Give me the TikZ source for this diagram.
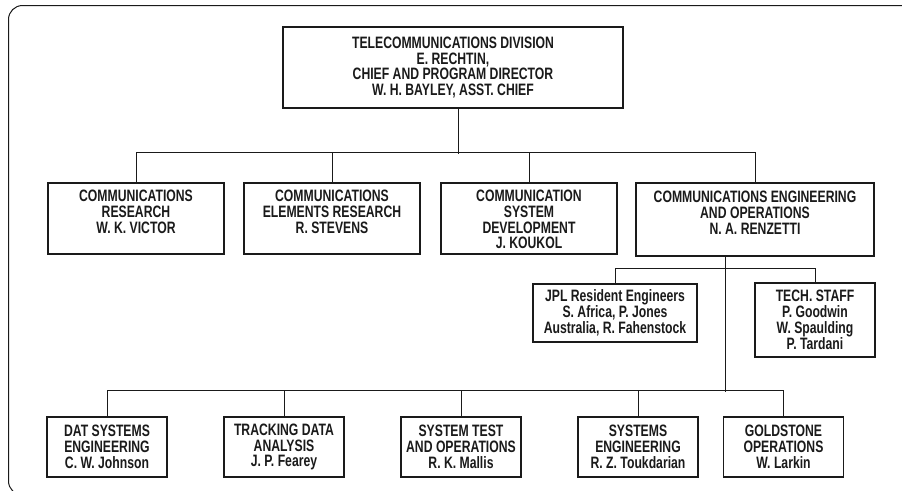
\documentclass[tikz,border=0pt]{standalone}
\usepackage{fontspec}
\setmainfont{Liberation Sans}[FakeStretch=0.74]
\definecolor{orginkt}{HTML}{1A1A1A}
\newcommand{\afdtekst}[2][162pt]{\parbox[c][57pt][t]{#1}{\centering #2}}

\begin{document}
\begin{tikzpicture}[x=1pt,y=-1pt,
    orgvak/.style={draw=orginkt,line width=1.1pt,inner sep=0pt,align=center,
      font=\fontsize{16.5}{15.8}\selectfont\bfseries,text=orginkt},
    afdvak/.style={orgvak,inner sep=7pt,minimum width=176pt,minimum height=71pt},
    klein/.style={orgvak,minimum width=120pt,minimum height=60pt},
    lijn/.style={draw=orginkt,line width=1pt}]

  \useasboundingbox (0,0) rectangle (902,490);
  \clip (0,0) rectangle (902,490);

  % kader
  \draw[orginkt,line width=1pt,rounded corners=14pt]
    (905,5.5) -- (8.5,5.5) -- (8.5,495) -- (40,495);

  % divisie
  \node[orgvak,minimum width=340pt,minimum height=81pt] (div) at (453,67.5)
    {TELECOMMUNICATIONS DIVISION\\E. RECHTIN,\\CHIEF AND PROGRAM DIRECTOR\\W. H. BAYLEY, ASST. CHIEF};

  % afdelingen
  \node[afdvak] (onderzoek) at (136,218.5)
    {\afdtekst{COMMUNICATIONS\\RESEARCH\\W. K. VICTOR}};
  \node[afdvak] (elementen) at (332,218.5)
    {\afdtekst{COMMUNICATIONS\\ELEMENTS RESEARCH\\R. STEVENS}};
  \node[afdvak] (systeem) at (529,218.5)
    {\afdtekst{COMMUNICATION\\SYSTEM\\DEVELOPMENT\\J. KOUKOL}};
  \node[afdvak,minimum width=238pt,minimum height=73pt] (operaties) at (755,219.5)
    {\afdtekst[224pt]{COMMUNICATIONS ENGINEERING\\AND OPERATIONS\\N. A. RENZETTI}};

  % staf
  \node[orgvak,minimum width=164pt,minimum height=58pt] (jpl) at (615,313)
    {JPL Resident Engineers\\S. Africa, P. Jones\\Australia, R. Fahenstock};
  \node[orgvak,minimum width=120pt,minimum height=74pt] (techstaf) at (815,320)
    {TECH. STAFF\\P. Goodwin\\W. Spaulding\\P. Tardani};

  % groepen
  \node[klein] (dat) at (107,447)
    {DAT SYSTEMS\\ENGINEERING\\C. W. Johnson};
  \node[klein] (tracking) at (284,447)
    {TRACKING DATA\\ANALYSIS\\J. P. Fearey};
  \node[klein] (systest) at (461,447)
    {SYSTEM TEST\\AND OPERATIONS\\R. K. Mallis};
  \node[klein] (syseng) at (638,447)
    {SYSTEMS\\ENGINEERING\\R. Z. Toukdarian};
  \node[klein] (goldstone) at (783.5,447)
    {GOLDSTONE\\OPERATIONS\\W. Larkin};

  % verbindingen
  \draw[lijn] ([xshift=5pt]div.south) -- ++(0,45);
  \draw[lijn] (onderzoek.north) -- ++(0,-30) -| (operaties.north);
  \foreach \afd in {elementen,systeem}
    \draw[lijn] (\afd.north) -- ++(0,-30);

  \draw[lijn] ([xshift=-30pt]operaties.south) -- ++(0,135);
  \draw[lijn] (jpl.north) -- ++(0,-15) -| (techstaf.north);

  \draw[lijn] (dat.north) -- ++(0,-26) -| (goldstone.north);
  \foreach \grp in {tracking,systest,syseng}
    \draw[lijn] (\grp.north) -- ++(0,-26);

\end{tikzpicture}
\end{document}
